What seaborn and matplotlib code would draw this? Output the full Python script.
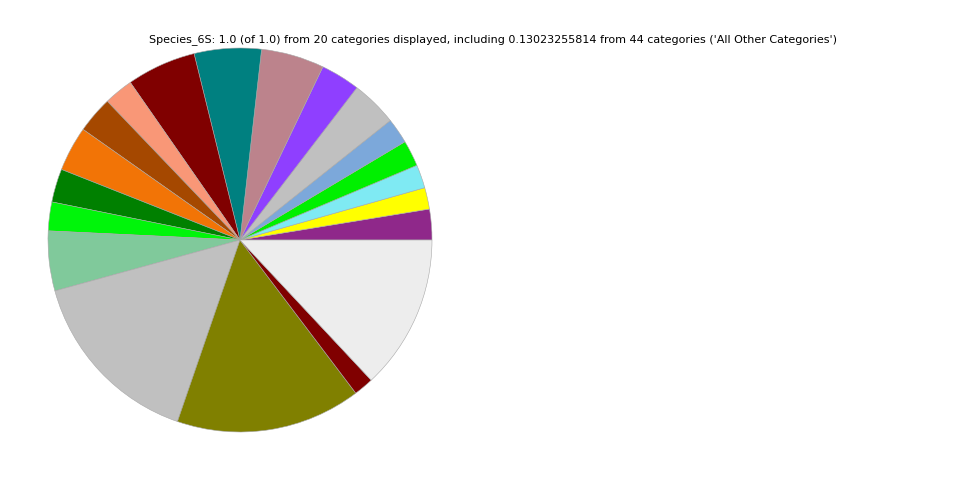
import matplotlib
matplotlib.use('Agg')
import matplotlib.pyplot as plt
import seaborn as sns

# Slice shares (counter-clockwise from 3 o'clock)
categories = ['Taxon %d' % i for i in range(1, 20)] + ['All Other Categories']
shares = [0.0258, 0.0181, 0.0197, 0.0219, 0.0214, 0.0389, 0.0331, 0.0531,
          0.0564, 0.0583, 0.0247, 0.0308, 0.0378, 0.0281, 0.0242, 0.0503,
          0.1544, 0.1558, 0.0167, 0.13023255814]
colors = ['#8f288a', '#ffff00', '#7feaf3', '#00f000', '#7ca8da', '#c0c0c0',
          '#8f3fff', '#bc838c', '#008080', '#800000', '#f99777', '#a54800',
          '#f27406', '#008000', '#00f50a', '#80c99b', '#c0c0c0', '#808000',
          '#800000', '#ededed']
title = ("Species_6S: 1.0 (of 1.0) from 20 categories displayed, including "
         "0.13023255814 from 44 categories ('All Other Categories')")

sns.set_style('white')
fig = plt.figure(figsize=(9.6, 4.8), dpi=100)
ax = fig.add_axes([0.05, 0.1, 0.4, 0.8])

palette = sns.color_palette(colors)
wedges, _ = ax.pie(shares, colors=palette, startangle=0, counterclock=True,
                   wedgeprops={'linewidth': 0.4, 'edgecolor': '#a8a8a8'})
for w in wedges:
    w.set_clip_on(False)
ax.set_xlim(-1, 1)
ax.set_ylim(-1, 1)
ax.set_aspect('equal')
ax.axis('off')

fig.text(0.514, 0.917, title, ha='center', va='center', fontsize=8,
         color='black')

fig.savefig('out.png', dpi=100)
